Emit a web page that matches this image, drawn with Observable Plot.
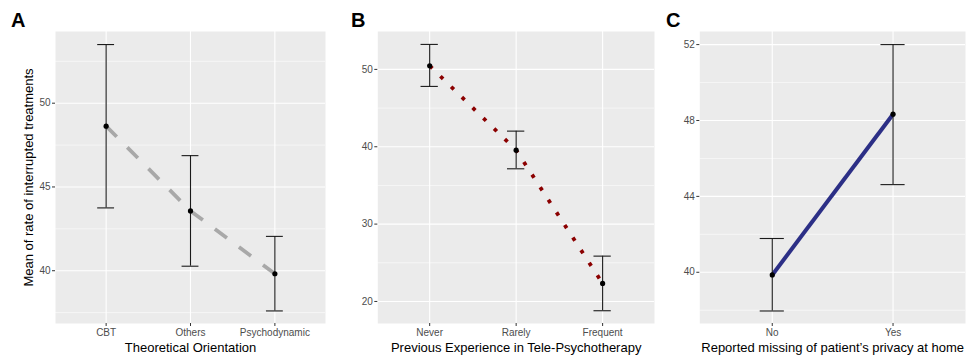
<!DOCTYPE html>
<html>
<head>
<meta charset="utf-8">
<script src="https://cdn.jsdelivr.net/npm/d3@7"></script>
<script src="https://cdn.jsdelivr.net/npm/@observablehq/plot@0.6"></script>
<style>
  html, body { margin: 0; padding: 0; background: #ffffff; }
  #wrap { position: relative; width: 966px; height: 358px; overflow: hidden;
          font-family: "Liberation Sans", Arial, Helvetica, sans-serif; }
  .panel { position: absolute; top: 0; }
  .tag { position: absolute; font-weight: bold; font-size: 20px; line-height: 20px; color: #000; }
</style>
</head>
<body>
<div id="wrap"></div>
<script>
// ---- Panel A data ----
const catsA = ["CBT", "Others", "Psychodynamic"];
const meanA = [48.63, 43.57, 39.82];
const lowA  = [43.75, 40.27, 37.60];
const highA = [53.50, 46.87, 42.05];
const majorA = [40, 45, 50];
const minorA = [37.5, 42.5, 47.5, 52.5];

// ---- Panel B data ----
const catsB = ["Never", "Rarely", "Frequent"];
const meanB = [50.47, 39.56, 22.33];
const lowB  = [47.80, 37.15, 18.80];
const highB = [53.23, 42.02, 25.86];
const majorB = [20, 30, 40, 50];
const minorB = [25, 35, 45];

// ---- Panel C data ----
const catsC = ["No", "Yes"];
const meanC = [39.86, 48.33];
const lowC  = [37.96, 44.62];
const highC = [41.78, 52.00];
const majorC = [40, 44, 48, 52];
const minorC = [38, 42, 46, 50];

const labelsX = ["Theoretical Orientation", "Previous Experience in Tele-Psychotherapy", "Reported missing of patient\u2019s privacy at home"];
const labelY = "Mean of rate of interrupted treatments";
const tags = ["A", "B", "C"];

const FONT = "'Liberation Sans', Arial, Helvetica, sans-serif";

function panel(cfg) {
  const n = cfg.cats.length;
  const idx = cfg.cats.map((c, i) => i + 1);
  const data = cfg.cats.map((c, i) => ({i: i + 1, c, m: cfg.mean[i], lo: cfg.low[i], hi: cfg.high[i]}));
  const marks = [
    Plot.frame({fill: "#ebebeb", stroke: null}),
    Plot.gridY(cfg.minor, {stroke: "#ffffff", strokeOpacity: 1, strokeWidth: 0.55}),
    Plot.gridY(cfg.major, {stroke: "#ffffff", strokeOpacity: 1, strokeWidth: 1.1}),
    Plot.gridX(idx, {stroke: "#ffffff", strokeOpacity: 1, strokeWidth: 1.1}),
    Plot.line(data, {x: "i", y: "m", strokeLinecap: "butt", strokeLinejoin: "miter", ...cfg.line}),
    Plot.ruleX(data, {x: "i", y1: "lo", y2: "hi", stroke: "#1a1a1a", strokeWidth: 1.1}),
    Plot.ruleY(data, {y: "hi", x1: d => d.i - 0.1, x2: d => d.i + 0.1, stroke: "#1a1a1a", strokeWidth: 1.1}),
    Plot.ruleY(data, {y: "lo", x1: d => d.i - 0.1, x2: d => d.i + 0.1, stroke: "#1a1a1a", strokeWidth: 1.1}),
    Plot.dot(data, {x: "i", y: "m", r: 2.6, fill: "#000000", stroke: null}),
    Plot.axisX(idx, {tickFormat: i => cfg.cats[i - 1], tickSize: 3, tickPadding: 2, fontSize: 10,
                     stroke: "#333333", color: "#4d4d4d", label: null}),
    Plot.axisY(cfg.major, {tickSize: 3, tickPadding: 2, fontSize: 10, stroke: "#333333",
                           color: "#4d4d4d", label: null}),
    Plot.text([cfg.xlabel], {frameAnchor: "bottom", dy: 24, fontSize: 13, fill: "#000000", lineAnchor: "middle"})
  ];
  if (cfg.ylabel) {
    marks.push(Plot.text([cfg.ylabel], {frameAnchor: "left", dx: -27, rotate: -90, fontSize: 13,
                                        fill: "#000000", textAnchor: "middle"}));
  }
  return Plot.plot({
    width: cfg.width,
    height: 358,
    marginTop: 31,
    marginBottom: 35,
    marginLeft: cfg.ml,
    marginRight: cfg.mr,
    x: {domain: [0.4, n + 0.6]},
    y: {domain: cfg.ydom},
    style: {fontFamily: FONT, background: "transparent", overflow: "visible"},
    marks
  });
}

const wrap = document.getElementById("wrap");
const panels = [
  {left: 0, width: 330, ml: 55, mr: 5, cats: catsA, mean: meanA, low: lowA, high: highA,
   major: majorA, minor: minorA, ydom: [36.85, 54.28], xlabel: labelsX[0], ylabel: labelY,
   line: {stroke: "#a8a8a8", strokeWidth: 3.75, strokeDasharray: "15,15"}},
  {left: 330, width: 326, ml: 47.3, mr: 2, cats: catsB, mean: meanB, low: lowB, high: highB,
   major: majorB, minor: minorB, ydom: [17.15, 54.9], xlabel: labelsX[1], ylabel: null,
   line: {stroke: "#8b0000", strokeWidth: 3.75, strokeDasharray: "3.75,11.25"}},
  {left: 656, width: 310, ml: 43.3, mr: 1, cats: catsC, mean: meanC, low: lowC, high: highC,
   major: majorC, minor: minorC, ydom: [37.3, 52.69], xlabel: labelsX[2], ylabel: null,
   line: {stroke: "#2c2f86", strokeWidth: 4}}
];
const tagX = [11, 351, 666];
panels.forEach((p, k) => {
  const svg = panel(p);
  svg.classList.add("panel");
  svg.style.left = p.left + "px";
  wrap.appendChild(svg);
  const t = document.createElement("div");
  t.className = "tag";
  t.textContent = tags[k];
  t.style.left = tagX[k] + "px";
  t.style.top = "10px";
  wrap.appendChild(t);
});
</script>
</body>
</html>
